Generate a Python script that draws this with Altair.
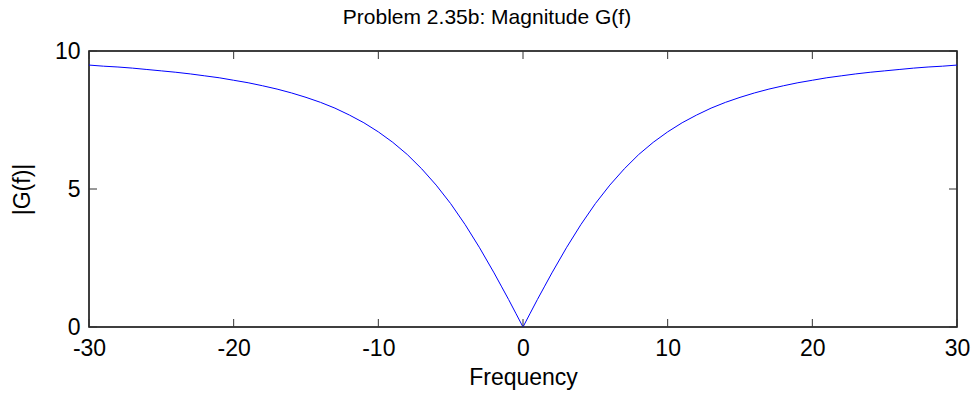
import altair as alt
import pandas as pd

# Frequency samples and the |G(f)| values
freq_pos = [0, 0.5, 1, 1.5, 2, 3, 4, 5, 6, 7, 8, 9, 10, 11, 12, 13, 14, 15, 16, 17, 18, 19,
            20, 21, 22, 23, 24, 25, 26, 27, 28, 29, 30]
mag_pos = [0.0, 0.5, 1.0, 1.48, 1.96, 2.87, 3.71, 4.47, 5.14, 5.73, 6.25, 6.69, 7.07, 7.40,
           7.68, 7.93, 8.14, 8.32, 8.48, 8.62, 8.74, 8.85, 8.94, 9.03, 9.10, 9.17, 9.23,
           9.28, 9.33, 9.38, 9.42, 9.45, 9.49]

x_ticks = [-30, -20, -10, 0, 10, 20, 30]
y_ticks = [0, 5, 10]

freqs = [-f for f in reversed(freq_pos[1:])] + freq_pos
mags = list(reversed(mag_pos[1:])) + mag_pos
df = pd.DataFrame({"f": freqs, "g": mags})

FONT = "Liberation Sans"
xs = alt.Scale(domain=[-30, 30], nice=False, zero=False)
ys = alt.Scale(domain=[0, 10], nice=False)

line = alt.Chart(df).mark_line(color="#0000ff", strokeWidth=1, clip=True).encode(
    x=alt.X("f:Q", scale=xs, title="Frequency",
            axis=alt.Axis(values=x_ticks, ticks=False, grid=False, domain=False,
                          labelPadding=10, titlePadding=6, labelFlush=False,
                          labelExpr="'' + datum.value")),
    y=alt.Y("g:Q", scale=ys, title="|G(f)|",
            axis=alt.Axis(values=y_ticks, ticks=False, grid=False, domain=False,
                          labelPadding=9, titlePadding=20, labelFlush=False,
                          labelExpr="'' + datum.value")),
)

# inward tick marks (MATLAB box style)
xt = pd.DataFrame({"t": x_ticks})
yt = pd.DataFrame({"t": y_ticks})
tick_len_y = 10 * 8 / 276
tick_len_x = 60 * 8 / 868

xb = alt.Chart(xt).mark_rule(color="#333333", strokeWidth=1).encode(
    x=alt.X("t:Q", scale=xs), y=alt.YDatum(0), y2=alt.Y2Datum(tick_len_y))
xtop = alt.Chart(xt).mark_rule(color="#333333", strokeWidth=1).encode(
    x=alt.X("t:Q", scale=xs), y=alt.YDatum(10), y2=alt.Y2Datum(10 - tick_len_y))
yl = alt.Chart(yt).mark_rule(color="#333333", strokeWidth=1).encode(
    y=alt.Y("t:Q", scale=ys), x=alt.XDatum(-30), x2=alt.X2Datum(-30 + tick_len_x))
yr = alt.Chart(yt).mark_rule(color="#333333", strokeWidth=1).encode(
    y=alt.Y("t:Q", scale=ys), x=alt.XDatum(30), x2=alt.X2Datum(30 - tick_len_x))

chart = alt.layer(line, xb, xtop, yl, yr).properties(
    width=868, height=276,
    background="white",
    title=alt.TitleParams("Problem 2.35b: Magnitude G(f)", font=FONT, fontSize=21,
                          fontWeight="normal", color="black", dx=-36, offset=12),
    autosize=alt.AutoSizeParams(type="none"),
    padding={"left": 89, "top": 51, "right": 19, "bottom": 75},
).configure_view(stroke="black", strokeWidth=1.5).configure_axis(
    labelFont=FONT, titleFont=FONT, labelFontSize=23, titleFontSize=23,
    labelColor="black", titleColor="black", titleFontWeight="normal",
)

chart.save("out.html", embed_options={"renderer": "svg", "actions": False})
